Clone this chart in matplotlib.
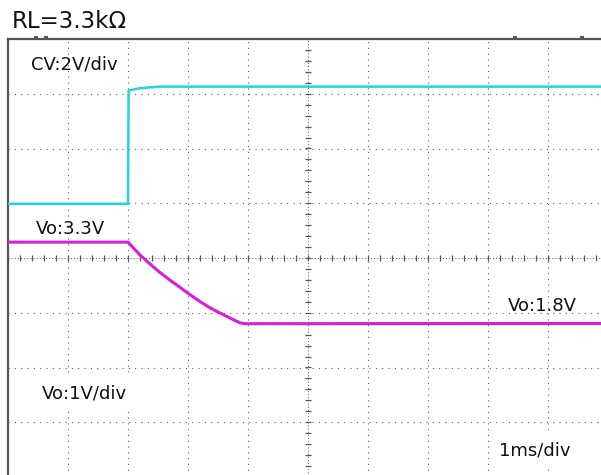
import numpy as np
import matplotlib.pyplot as plt

# scope capture, RL = 3.3 kOhm; time in ms (1 ms/div), vertical in divisions
cv_t = [-5.0, -3.0, -2.99, -2.8, -2.5, 5.0]
cv_v = [0.99, 0.99, 3.06, 3.10, 3.13, 3.13]

vo_t = [-5.0, -3.0, -2.8, -2.633, -2.467, -2.3, -2.133, -1.967, -1.8,
        -1.633, -1.467, -1.3, -1.133, -1.05, 5.0]
vo_v = [0.29, 0.29, 0.055, -0.11, -0.265, -0.405, -0.535, -0.67, -0.795,
        -0.91, -1.005, -1.096, -1.185, -1.20, -1.196]

x_divs = [-4, -3, -2, -1, 1, 2, 3, 4]
y_divs = [-3, -2, -1, 1, 2, 3]

grid_col = "#5e5e5e"
frame_col = "#555555"

fig = plt.figure(figsize=(6.01, 4.75), dpi=100)
# the screen is 10 x 8 div; right and bottom edges fall just outside the picture
ax = fig.add_axes([8 / 601, -2 / 475, 600 / 601, 438 / 475])
ax.set_xlim(-5, 5)
ax.set_ylim(-4, 4)
ax.set_xticks([])
ax.set_yticks([])
for side in ["right", "bottom"]:
    ax.spines[side].set_visible(False)
for side in ["left", "top"]:
    ax.spines[side].set_color(frame_col)
    ax.spines[side].set_linewidth(1.6)

for xv in x_divs:
    ax.axvline(xv, color=grid_col, lw=0.8, ls=(0, (1, 4.2)), zorder=1)
for yv in y_divs:
    ax.axhline(yv, color=grid_col, lw=0.8, ls=(0, (1, 4.7)), zorder=1)

# centre axes with 0.2 div tick marks
ax.axhline(0, color="#666666", lw=0.75, ls=(0, (1, 2)), zorder=1)
ax.axvline(0, color="#666666", lw=0.75, ls=(0, (1, 2)), zorder=1)
minor = np.arange(-5, 5.01, 0.2)
ax.plot(minor, np.zeros_like(minor), ls="none", marker="|", ms=5, mew=0.9,
        color="#555555", zorder=1)
minor_y = np.arange(-4, 4.01, 0.2)
ax.plot(np.zeros_like(minor_y), minor_y, ls="none", marker="_", ms=5, mew=0.9,
        color="#555555", zorder=1)

# small markers above the top frame
ax.plot([-4.53, -4.37, 3.45, 4.57], [4.04, 4.04, 4.04, 4.04], ls="none",
        marker="_", ms=3, mew=1.2, color="#333333", clip_on=False)

ax.plot(cv_t, cv_v, color="#1ed6dc", lw=1.8, zorder=3)
ax.plot(vo_t, vo_v, color="#d81ed8", lw=2.2, zorder=3)

fs = 13
ax.text(-4.62, 3.53, "CV:2V/div", fontsize=fs, va="center", ha="left", color="#111111")
ax.text(-4.53, 0.53, "Vo:3.3V", fontsize=fs, va="center", ha="left", color="#111111")
ax.text(3.33, -0.88, "Vo:1.8V", fontsize=fs, va="center", ha="left", color="#111111")
ax.text(-4.43, -2.47, "Vo:1V/div", fontsize=fs, va="center", ha="left", color="#111111",
        bbox=dict(facecolor="white", edgecolor="none", pad=6), zorder=4)
ax.text(3.18, -3.51, "1ms/div", fontsize=fs, va="center", ha="left", color="#111111",
        bbox=dict(facecolor="white", edgecolor="none", pad=6), zorder=4)

fig.text(12 / 601, 1 - 21 / 475, "RL=3.3kΩ", fontsize=16.5, va="center", ha="left",
         color="#111111")

fig.savefig("out.png", dpi=100)
